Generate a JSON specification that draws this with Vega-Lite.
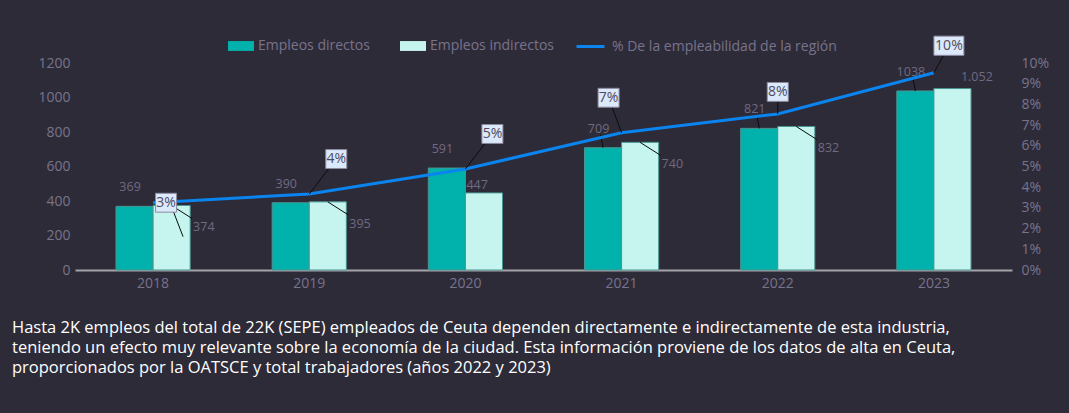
{
  "$schema": "https://vega.github.io/schema/vega-lite/v6.json",
  "width": 937,
  "height": 207,
  "autosize": {"type": "none"},
  "padding": {"left": 75, "top": 63, "right": 57, "bottom": 143},
  "background": "#2e2b38",
  "config": {
    "view": {"stroke": null},
    "font": "Open Sans",
    "axis": {"labelFont": "Open Sans", "labelColor": "#78738c", "labelFontSize": 14, "ticks": false, "grid": false, "title": null, "labelOverlap": false},
    "legend": {"labelFont": "Open Sans", "labelFontSize": 14, "labelColor": "#78738c", "labelLimit": 0}
  },
  "title": {
    "text": [
      "Hasta 2K empleos del total de 22K (SEPE) empleados de Ceuta dependen directamente e indirectamente de esta industria,",
      "teniendo un efecto muy relevante sobre la economía de la ciudad. Esta información proviene de los datos de alta en Ceuta,",
      "proporcionados por la OATSCE y total trabajadores (años 2022 y 2023)"
    ],
    "orient": "bottom",
    "anchor": "start",
    "frame": "group",
    "dx": -63,
    "offset": 30,
    "color": "#ffffff",
    "font": "Open Sans",
    "fontSize": 16.5,
    "fontWeight": "normal",
    "lineHeight": 20,
    "align": "left",
    "baseline": "top"
  },
  "data": {
    "values": [
      {"year": "2018", "directos": 369, "indirectos": 374, "pct": 0.0325, "lab_dir": "369", "lab_ind": "374"},
      {"year": "2019", "directos": 390, "indirectos": 395, "pct": 0.0367, "lab_dir": "390", "lab_ind": "395"},
      {"year": "2020", "directos": 591, "indirectos": 447, "pct": 0.0488, "lab_dir": "591", "lab_ind": "447"},
      {"year": "2021", "directos": 709, "indirectos": 740, "pct": 0.0663, "lab_dir": "709", "lab_ind": "740"},
      {"year": "2022", "directos": 821, "indirectos": 832, "pct": 0.0754, "lab_dir": "821", "lab_ind": "832"},
      {"year": "2023", "directos": 1038, "indirectos": 1052, "pct": 0.0953, "lab_dir": "1038", "lab_ind": "1.052"}
    ]
  },
  "layer": [
    {
      "layer": [
        {
          "transform": [{"fold": ["directos", "indirectos"], "as": ["serie", "value"]}],
          "mark": {"type": "bar", "stroke": "#4a9591", "strokeWidth": 1},
          "encoding": {
            "x": {
              "field": "year", "type": "nominal",
              "scale": {"paddingInner": 0.525, "paddingOuter": 0.2625},
              "axis": {"labelAngle": 0, "domain": true, "domainColor": "#a3a3a8", "domainWidth": 2, "labelPadding": 6}
            },
            "xOffset": {"field": "serie", "type": "nominal", "scale": {"paddingInner": 0, "paddingOuter": 0}},
            "y": {
              "field": "value", "type": "quantitative",
              "scale": {"domain": [0, 1200], "nice": false},
              "axis": {"values": [0, 200, 400, 600, 800, 1000, 1200], "tickCount": 50, "format": "d", "domain": false, "labelPadding": 5, "labelFlush": false}
            },
            "color": {
              "field": "serie", "type": "nominal",
              "scale": {"domain": ["directos", "indirectos"], "range": ["#00b2ab", "#c6f4ef"]},
              "legend": {
                "orient": "none",
                "legendX": 153,
                "legendY": -30,
                "direction": "horizontal",
                "title": null,
                "columnPadding": 30,
                "labelOffset": 4,
                "symbolType": "M-1,-0.38H1V0.38H-1Z",
                "symbolSize": 676,
                "symbolStrokeWidth": 0,
                "symbolOpacity": 1,
                "labelExpr": "datum.value == 'directos' ? 'Empleos directos' : 'Empleos indirectos'"
              }
            }
          }
        },
        {
          "transform": [{"filter": "datum.year == '2021' || datum.year == '2022' || datum.year == '2023'"}],
          "mark": {"type": "rule", "color": "#0b0b0b", "strokeWidth": 1, "xOffset": -18.5, "x2Offset": -21, "y2Offset": -13},
          "encoding": {
            "x": {"field": "year", "type": "nominal"},
            "x2": {"field": "year"},
            "y": {"field": "directos", "type": "quantitative"},
            "y2": {"field": "directos"}
          }
        },
        {
          "transform": [{"filter": "datum.year != '2020' && datum.year != '2023'"}],
          "mark": {"type": "rule", "color": "#0b0b0b", "strokeWidth": 1, "xOffset": 18.5, "x2Offset": 39, "y2Offset": 13},
          "encoding": {
            "x": {"field": "year", "type": "nominal"},
            "x2": {"field": "year"},
            "y": {"field": "indirectos", "type": "quantitative"},
            "y2": {"field": "indirectos"}
          }
        },
        {
          "mark": {"type": "text", "align": "center", "baseline": "middle", "dx": -23, "dy": -19, "fontSize": 12.5, "color": "#6f6a82"},
          "encoding": {
            "x": {"field": "year", "type": "nominal"},
            "y": {"field": "directos", "type": "quantitative"},
            "text": {"field": "lab_dir"}
          }
        },
        {
          "transform": [{"filter": "datum.year != '2020' && datum.year != '2023'"}],
          "mark": {"type": "text", "align": "left", "baseline": "middle", "dx": 40, "dy": 22, "fontSize": 12.5, "color": "#6f6a82"},
          "encoding": {
            "x": {"field": "year", "type": "nominal"},
            "y": {"field": "indirectos", "type": "quantitative"},
            "text": {"field": "lab_ind"}
          }
        },
        {
          "transform": [{"filter": "datum.year == '2020'"}],
          "mark": {"type": "text", "align": "left", "baseline": "middle", "dx": 1, "dy": -8, "fontSize": 12.5, "color": "#6f6a82"},
          "encoding": {
            "x": {"field": "year", "type": "nominal"},
            "y": {"field": "indirectos", "type": "quantitative"},
            "text": {"field": "lab_ind"}
          }
        },
        {
          "transform": [{"filter": "datum.year == '2023'"}],
          "mark": {"type": "text", "align": "left", "baseline": "middle", "dx": 27, "dy": -12, "fontSize": 12.5, "color": "#6f6a82"},
          "encoding": {
            "x": {"field": "year", "type": "nominal"},
            "y": {"field": "indirectos", "type": "quantitative"},
            "text": {"field": "lab_ind"}
          }
        }
      ]
    },
    {
      "layer": [
        {
          "mark": {"type": "line", "strokeWidth": 3},
          "encoding": {
            "x": {"field": "year", "type": "nominal"},
            "y": {
              "field": "pct", "type": "quantitative",
              "scale": {"domain": [0, 0.1], "nice": false},
              "axis": {"orient": "right", "format": ".0%", "values": [0, 0.01, 0.02, 0.03, 0.04, 0.05, 0.06, 0.07, 0.08, 0.09, 0.1], "tickCount": 50, "domain": false, "labelPadding": 9, "labelFlush": false}
            },
            "stroke": {
              "datum": "% De la empleabilidad de la región", "type": "nominal",
              "scale": {"range": ["#0a84ee"]},
              "legend": {
                "orient": "none",
                "legendX": 500,
                "legendY": -32,
                "title": null,
                "labelOffset": 6,
                "symbolType": "stroke",
                "symbolSize": 784,
                "symbolStrokeWidth": 3
              }
            }
          }
        },
        {
          "transform": [{"filter": "datum.year == '2019' || datum.year == '2020'"}],
          "mark": {"type": "rule", "color": "#0b0b0b", "strokeWidth": 1, "x2Offset": 27, "y2Offset": -35},
          "encoding": {"x": {"field": "year", "type": "nominal"}, "x2": {"field": "year"}, "y": {"field": "pct", "type": "quantitative"}, "y2": {"field": "pct"}}
        },
        {
          "transform": [{"filter": "datum.year == '2021'"}],
          "mark": {"type": "rule", "color": "#0b0b0b", "strokeWidth": 1, "x2Offset": -13, "y2Offset": -35},
          "encoding": {"x": {"field": "year", "type": "nominal"}, "x2": {"field": "year"}, "y": {"field": "pct", "type": "quantitative"}, "y2": {"field": "pct"}}
        },
        {
          "transform": [{"filter": "datum.year == '2022'"}],
          "mark": {"type": "rule", "color": "#0b0b0b", "strokeWidth": 1, "x2Offset": 0, "y2Offset": -22},
          "encoding": {"x": {"field": "year", "type": "nominal"}, "x2": {"field": "year"}, "y": {"field": "pct", "type": "quantitative"}, "y2": {"field": "pct"}}
        },
        {
          "transform": [{"filter": "datum.year == '2023'"}],
          "mark": {"type": "rule", "color": "#0b0b0b", "strokeWidth": 1, "x2Offset": 15, "y2Offset": -27},
          "encoding": {"x": {"field": "year", "type": "nominal"}, "x2": {"field": "year"}, "y": {"field": "pct", "type": "quantitative"}, "y2": {"field": "pct"}}
        },
        {
          "transform": [{"filter": "datum.year == '2018'"}],
          "mark": {"type": "rule", "color": "#0b0b0b", "strokeWidth": 1, "xOffset": 20, "yOffset": 8, "x2Offset": 30, "y2Offset": 34},
          "encoding": {"x": {"field": "year", "type": "nominal"}, "x2": {"field": "year"}, "y": {"field": "pct", "type": "quantitative"}, "y2": {"field": "pct"}}
        },
        {
          "transform": [{"filter": "datum.year == '2019' || datum.year == '2020'"}],
          "mark": {"type": "point", "filled": true, "fill": "#dce9fb", "stroke": "#8c8aa0", "strokeWidth": 1, "opacity": 1, "fillOpacity": 1, "xOffset": 27, "yOffset": -35, "shape": "M-1,-0.9H1V0.9H-1Z", "size": 441},
          "encoding": {"x": {"field": "year", "type": "nominal"}, "y": {"field": "pct", "type": "quantitative"}}
        },
        {
          "transform": [{"filter": "datum.year == '2021'"}],
          "mark": {"type": "point", "filled": true, "fill": "#dce9fb", "stroke": "#8c8aa0", "strokeWidth": 1, "opacity": 1, "fillOpacity": 1, "xOffset": -13, "yOffset": -35, "shape": "M-1,-0.9H1V0.9H-1Z", "size": 441},
          "encoding": {"x": {"field": "year", "type": "nominal"}, "y": {"field": "pct", "type": "quantitative"}}
        },
        {
          "transform": [{"filter": "datum.year == '2022'"}],
          "mark": {"type": "point", "filled": true, "fill": "#dce9fb", "stroke": "#8c8aa0", "strokeWidth": 1, "opacity": 1, "fillOpacity": 1, "xOffset": 0, "yOffset": -22, "shape": "M-1,-0.9H1V0.9H-1Z", "size": 441},
          "encoding": {"x": {"field": "year", "type": "nominal"}, "y": {"field": "pct", "type": "quantitative"}}
        },
        {
          "transform": [{"filter": "datum.year == '2018'"}],
          "mark": {"type": "point", "filled": true, "fill": "#dce9fb", "stroke": "#8c8aa0", "strokeWidth": 1, "opacity": 1, "fillOpacity": 1, "xOffset": 13, "yOffset": 0, "shape": "M-1,-0.9H1V0.9H-1Z", "size": 441},
          "encoding": {"x": {"field": "year", "type": "nominal"}, "y": {"field": "pct", "type": "quantitative"}}
        },
        {
          "transform": [{"filter": "datum.year == '2023'"}],
          "mark": {"type": "point", "filled": true, "fill": "#dce9fb", "stroke": "#8c8aa0", "strokeWidth": 1, "opacity": 1, "fillOpacity": 1, "xOffset": 15, "yOffset": -27, "shape": "M-1,-0.64H1V0.64H-1Z", "size": 900},
          "encoding": {"x": {"field": "year", "type": "nominal"}, "y": {"field": "pct", "type": "quantitative"}}
        },
        {
          "transform": [{"filter": "datum.year == '2019' || datum.year == '2020'"}],
          "mark": {"type": "text", "align": "center", "baseline": "middle", "dx": 27, "dy": -35, "fontSize": 14, "color": "#4d4b60"},
          "encoding": {"x": {"field": "year", "type": "nominal"}, "y": {"field": "pct", "type": "quantitative"}, "text": {"field": "pct", "format": ".0%"}}
        },
        {
          "transform": [{"filter": "datum.year == '2021'"}],
          "mark": {"type": "text", "align": "center", "baseline": "middle", "dx": -13, "dy": -35, "fontSize": 14, "color": "#4d4b60"},
          "encoding": {"x": {"field": "year", "type": "nominal"}, "y": {"field": "pct", "type": "quantitative"}, "text": {"field": "pct", "format": ".0%"}}
        },
        {
          "transform": [{"filter": "datum.year == '2022'"}],
          "mark": {"type": "text", "align": "center", "baseline": "middle", "dx": 0, "dy": -22, "fontSize": 14, "color": "#4d4b60"},
          "encoding": {"x": {"field": "year", "type": "nominal"}, "y": {"field": "pct", "type": "quantitative"}, "text": {"field": "pct", "format": ".0%"}}
        },
        {
          "transform": [{"filter": "datum.year == '2018'"}],
          "mark": {"type": "text", "align": "center", "baseline": "middle", "dx": 13, "dy": 0, "fontSize": 14, "color": "#4d4b60"},
          "encoding": {"x": {"field": "year", "type": "nominal"}, "y": {"field": "pct", "type": "quantitative"}, "text": {"field": "pct", "format": ".0%"}}
        },
        {
          "transform": [{"filter": "datum.year == '2023'"}],
          "mark": {"type": "text", "align": "center", "baseline": "middle", "dx": 15, "dy": -27, "fontSize": 14, "color": "#4d4b60"},
          "encoding": {"x": {"field": "year", "type": "nominal"}, "y": {"field": "pct", "type": "quantitative"}, "text": {"field": "pct", "format": ".0%"}}
        }
      ]
    }
  ],
  "resolve": {"scale": {"y": "independent"}}
}
